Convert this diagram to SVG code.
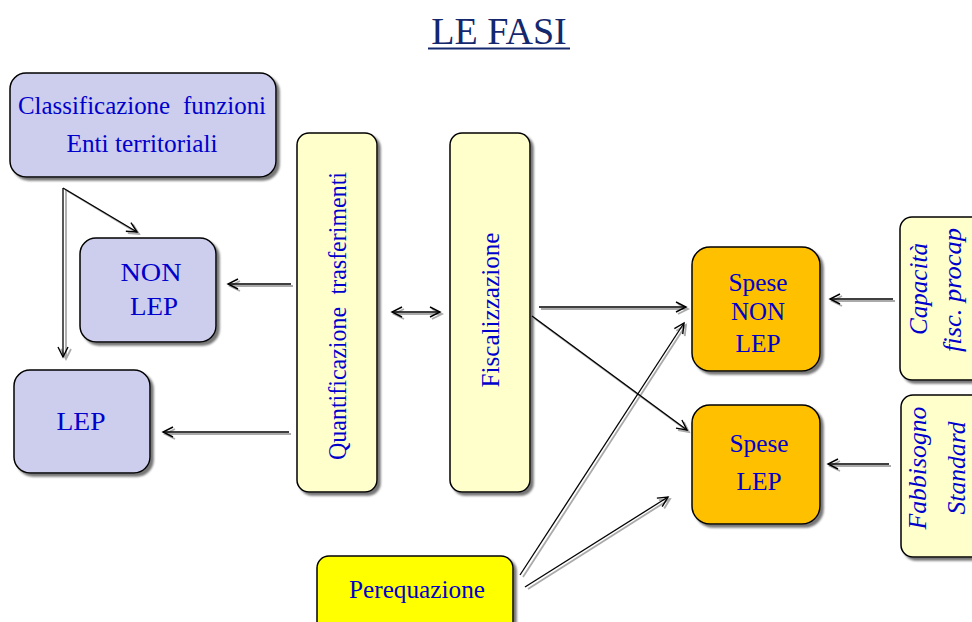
<svg xmlns="http://www.w3.org/2000/svg" width="972" height="622" viewBox="0 0 972 622">
<defs>
  <filter id="sh" x="-10%" y="-10%" width="130%" height="130%">
    <feDropShadow dx="3" dy="3" stdDeviation="1.2" flood-color="#555" flood-opacity="0.8"/>
  </filter>
  <marker id="ah" markerWidth="14" markerHeight="14" refX="11" refY="6" orient="auto-start-reverse" markerUnits="userSpaceOnUse">
    <path d="M1,1 L11,6 L1,11" fill="none" stroke="#000" stroke-width="1.4"/>
  </marker>
  <marker id="ahs" markerWidth="14" markerHeight="14" refX="11" refY="6" orient="auto-start-reverse" markerUnits="userSpaceOnUse">
    <path d="M1,1 L11,6 L1,11" fill="none" stroke="#aaa" stroke-width="1.8"/>
  </marker>
</defs>
<style>
  .box{stroke:#000;stroke-width:1.5;filter:url(#sh)}
  .lav{fill:#cdcdee}
  .lyel{fill:#ffffcc}
  .org{fill:#ffc000}
  .yel{fill:#ffff00}
  .t{font-family:"Liberation Serif","Times New Roman",serif;font-size:26px;fill:#0000cc;text-anchor:middle}
  .ti{font-style:italic}
  .ln{stroke:#000;stroke-width:1.3;fill:none;marker-end:url(#ah)}
  .lns{stroke:#aaa;stroke-width:1.8;fill:none;marker-end:url(#ahs)}
  .both{marker-start:url(#ah)}
  .boths{marker-start:url(#ahs)}
</style>
<rect width="972" height="622" fill="#fff"/>

<g id="title">
  <text x="499" y="44" font-family="Liberation Serif,'Times New Roman',serif" font-size="38" fill="#14286e" text-anchor="middle">LE FASI</text>
  <line x1="428" y1="48.5" x2="570" y2="48.5" stroke="#14286e" stroke-width="2"/>
</g>

<g id="classificazione">
  <rect class="box lav" x="10" y="73" width="266" height="104" rx="16"/>
  <text class="t" x="142" y="114" word-spacing="7" textLength="248" lengthAdjust="spacingAndGlyphs">Classificazione funzioni</text>
  <text class="t" x="142" y="152" textLength="151" lengthAdjust="spacingAndGlyphs">Enti territoriali</text>
</g>

<g id="nonlep">
  <rect class="box lav" x="80" y="238" width="136" height="104" rx="16"/>
  <text class="t" x="151" y="281" textLength="61" lengthAdjust="spacingAndGlyphs">NON</text>
  <text class="t" x="154" y="315" textLength="48" lengthAdjust="spacingAndGlyphs">LEP</text>
</g>

<g id="lep">
  <rect class="box lav" x="14" y="370" width="136" height="103" rx="16"/>
  <text class="t" x="81" y="430" textLength="49" lengthAdjust="spacingAndGlyphs">LEP</text>
</g>

<g id="quantificazione">
  <rect class="box lyel" x="297" y="133" width="80" height="359" rx="12"/>
  <text class="t" transform="translate(346,316) rotate(-90)" word-spacing="7" textLength="288" lengthAdjust="spacingAndGlyphs">Quantificazione trasferimenti</text>
</g>

<g id="fiscalizzazione">
  <rect class="box lyel" x="450" y="133" width="80" height="359" rx="12"/>
  <text class="t" transform="translate(499,310) rotate(-90)" textLength="155" lengthAdjust="spacingAndGlyphs">Fiscalizzazione</text>
</g>

<g id="spese-non-lep">
  <rect class="box org" x="692" y="247" width="128" height="124" rx="18"/>
  <text class="t" x="758" y="291" textLength="59" lengthAdjust="spacingAndGlyphs">Spese</text>
  <text class="t" x="758" y="320" textLength="54" lengthAdjust="spacingAndGlyphs">NON</text>
  <text class="t" x="758" y="352" textLength="45" lengthAdjust="spacingAndGlyphs">LEP</text>
</g>

<g id="spese-lep">
  <rect class="box org" x="692" y="405" width="128" height="119" rx="18"/>
  <text class="t" x="759" y="452" textLength="59" lengthAdjust="spacingAndGlyphs">Spese</text>
  <text class="t" x="759" y="490" textLength="45" lengthAdjust="spacingAndGlyphs">LEP</text>
</g>

<g id="capacita">
  <rect class="box lyel" x="900" y="217" width="90" height="163" rx="12"/>
  <text class="t ti" transform="translate(927,289) rotate(-90)" textLength="92" lengthAdjust="spacingAndGlyphs">Capacità</text>
  <text class="t ti" transform="translate(961,290) rotate(-90)" textLength="124" lengthAdjust="spacingAndGlyphs">fisc. procap</text>
</g>

<g id="fabbisogno">
  <rect class="box lyel" x="901" y="395" width="90" height="162" rx="12"/>
  <text class="t ti" transform="translate(926,468) rotate(-90)" textLength="123" lengthAdjust="spacingAndGlyphs">Fabbisogno</text>
  <text class="t ti" transform="translate(965,468) rotate(-90)" textLength="93" lengthAdjust="spacingAndGlyphs">Standard</text>
</g>

<g id="perequazione">
  <rect class="box yel" x="317" y="556" width="196" height="80" rx="12"/>
  <text class="t" x="417" y="598" textLength="136" lengthAdjust="spacingAndGlyphs">Perequazione</text>
</g>

<g id="connectors">
  <line class="lns" x1="66" y1="190" x2="66" y2="359"/>
  <line class="lns" x1="66" y1="190" x2="139" y2="234"/>
  <line class="lns" x1="293" y1="286" x2="230" y2="286"/>
  <line class="lns" x1="291" y1="434" x2="165" y2="434"/>
  <line class="lns boths" x1="394" y1="314" x2="442" y2="314"/>
  <line class="lns" x1="541" y1="309" x2="688" y2="309"/>
  <line class="lns" x1="534" y1="318" x2="689" y2="432"/>
  <line class="lns" x1="523" y1="577" x2="686" y2="325"/>
  <line class="lns" x1="528" y1="589" x2="670" y2="499"/>
  <line class="lns" x1="895" y1="301" x2="832" y2="301"/>
  <line class="lns" x1="891" y1="466" x2="830" y2="466"/>
  <line class="ln" x1="63" y1="188" x2="63" y2="357"/>
  <line class="ln" x1="63" y1="188" x2="137" y2="232"/>
  <line class="ln" x1="291" y1="284" x2="228" y2="284"/>
  <line class="ln" x1="289" y1="432" x2="163" y2="432"/>
  <line class="ln both" x1="392" y1="312" x2="440" y2="312"/>
  <line class="ln" x1="539" y1="307" x2="686" y2="307"/>
  <line class="ln" x1="532" y1="316" x2="687" y2="430"/>
  <line class="ln" x1="520" y1="575" x2="684" y2="323"/>
  <line class="ln" x1="525" y1="587" x2="668" y2="497"/>
  <line class="ln" x1="893" y1="299" x2="830" y2="299"/>
  <line class="ln" x1="889" y1="464" x2="828" y2="464"/>
</g>
</svg>
